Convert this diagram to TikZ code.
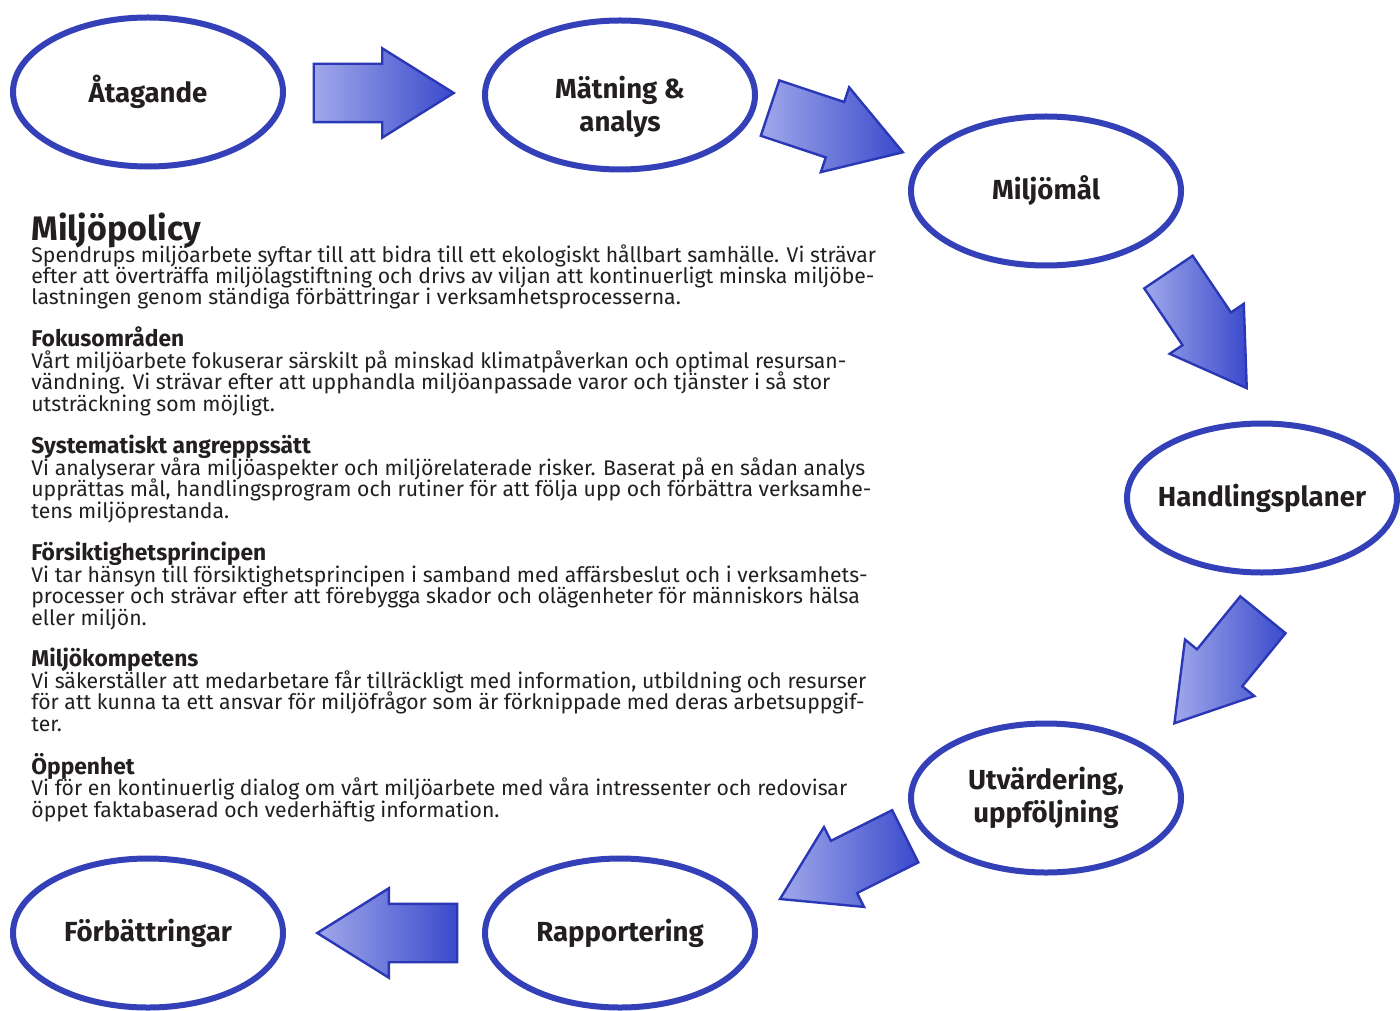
\documentclass[tikz,border=0pt]{standalone}
\usepackage{fontspec}
\setmainfont{Fira Sans}
\usetikzlibrary{shapes.geometric, shapes.arrows, positioning}

\definecolor{ringblue}{RGB}{51,64,184}
\definecolor{arrowblue}{RGB}{58,74,204}
\definecolor{arrowlight}{RGB}{160,168,234}
\definecolor{arrowedge}{RGB}{42,56,182}
\definecolor{inktext}{RGB}{35,31,32}

\newcommand\policyhead[1]{{\fontsize{11.4}{10.68}\selectfont\bfseries #1}}
\newcommand\policyfont{\fontsize{10.6}{10.68}\selectfont\lineskiplimit=-20pt\relax}

\tikzset{
  stage/.style = {ellipse, draw = ringblue, line width = 3pt, minimum width = 135pt,
    minimum height = 74.5pt, inner xsep = -8pt, inner ysep = 0pt, align = center,
    text = inktext, font = \fontsize{13.8}{16.5}\selectfont\bfseries},
  stagetext/.style = {align = center, inner sep = 0pt, text = inktext,
    font = \fontsize{13.8}{16.5}\selectfont\bfseries},
  flow/.style = {single arrow, draw = arrowedge, line width = 1.2pt, left color = arrowlight,
    right color = arrowblue, minimum height = 70pt, inner xsep = 0pt, inner ysep = 14pt,
    single arrow head extend = 7.75pt, single arrow tip angle = 64, anchor = tip},
  policypara/.style = {anchor = base west, align = left, inner sep = 0pt, text = inktext,
    font = \policyfont}
}

\begin{document}
\begin{tikzpicture} [x = 0.5pt, y = -0.5pt]
\useasboundingbox (0,0) rectangle (1400,1010);

\node (commit) [stage] at (148,92) {Åtagande};
\node (measure) [stage] at (620,95) {};
\node (measurelabel) [stagetext] at ([yshift = -6pt] measure.center) {Mätning \&\\analys};
\node (goals) [stage] at (1046,191) {Miljömål};
\node (plans) [stage] at (1262,498) {Handlingsplaner};
\node (review) [stage] at (1046,798) {Utvärdering,\\uppföljning};
\node (report) [stage] at (620,933) {Rapportering};
\node (improve) [stage] at (148,933) {Förbättringar};

% block arrows, placed at their tips
\node (step1) [flow] at (456,93) {};
\node (step2) [flow, rotate = -18.4] at (905,153) {};
\node (step3) [flow, rotate = -56] at (1248,390) {};
\node (step4) [flow, rotate = -129.2] at (1173,725) {};
\node (step5) [flow, rotate = -153.4] at (778,900) {};
\node (step6) [flow, rotate = 180] at (315,933) {};

% policy text (anchored at the last baseline)
\node (title) [anchor = base west, inner sep = 0pt, text = inktext,
  font = \fontsize{17}{18}\selectfont\bfseries] at (31,241) {Miljöpolicy};
\node (intro) [policypara] at (31,305) {Spendrups miljöarbete syftar till att bidra till ett ekologiskt hållbart samhälle. Vi strävar\\
efter att överträffa miljölagstiftning och drivs av viljan att kontinuerligt minska miljöbe-\\
lastningen genom ständiga förbättringar i verksamhetsprocesserna.};
\node (focus) [policypara] at (31,411) {\policyhead{Fokusområden}\\
Vårt miljöarbete fokuserar särskilt på minskad klimatpåverkan och optimal resursan-\\
vändning. Vi strävar efter att upphandla miljöanpassade varor och tjänster i så stor\\
utsträckning som möjligt.};
\node (system) [policypara] at (31,518) {\policyhead{Systematiskt angreppssätt}\\
Vi analyserar våra miljöaspekter och miljörelaterade risker. Baserat på en sådan analys\\
upprättas mål, handlingsprogram och rutiner för att följa upp och förbättra verksamhe-\\
tens miljöprestanda.};
\node (caution) [policypara] at (31,625) {\policyhead{Försiktighetsprincipen}\\
Vi tar hänsyn till försiktighetsprincipen i samband med affärsbeslut och i verksamhets-\\
processer och strävar efter att förebygga skador och olägenheter för människors hälsa\\
eller miljön.};
\node (skills) [policypara] at (31,731) {\policyhead{Miljökompetens}\\
Vi säkerställer att medarbetare får tillräckligt med information, utbildning och resurser\\
för att kunna ta ett ansvar för miljöfrågor som är förknippade med deras arbetsuppgif-\\
ter.};
\node (open) [policypara] at (31,817) {\policyhead{Öppenhet}\\
Vi för en kontinuerlig dialog om vårt miljöarbete med våra intressenter och redovisar\\
öppet faktabaserad och vederhäftig information.};
\end{tikzpicture}
\end{document}
